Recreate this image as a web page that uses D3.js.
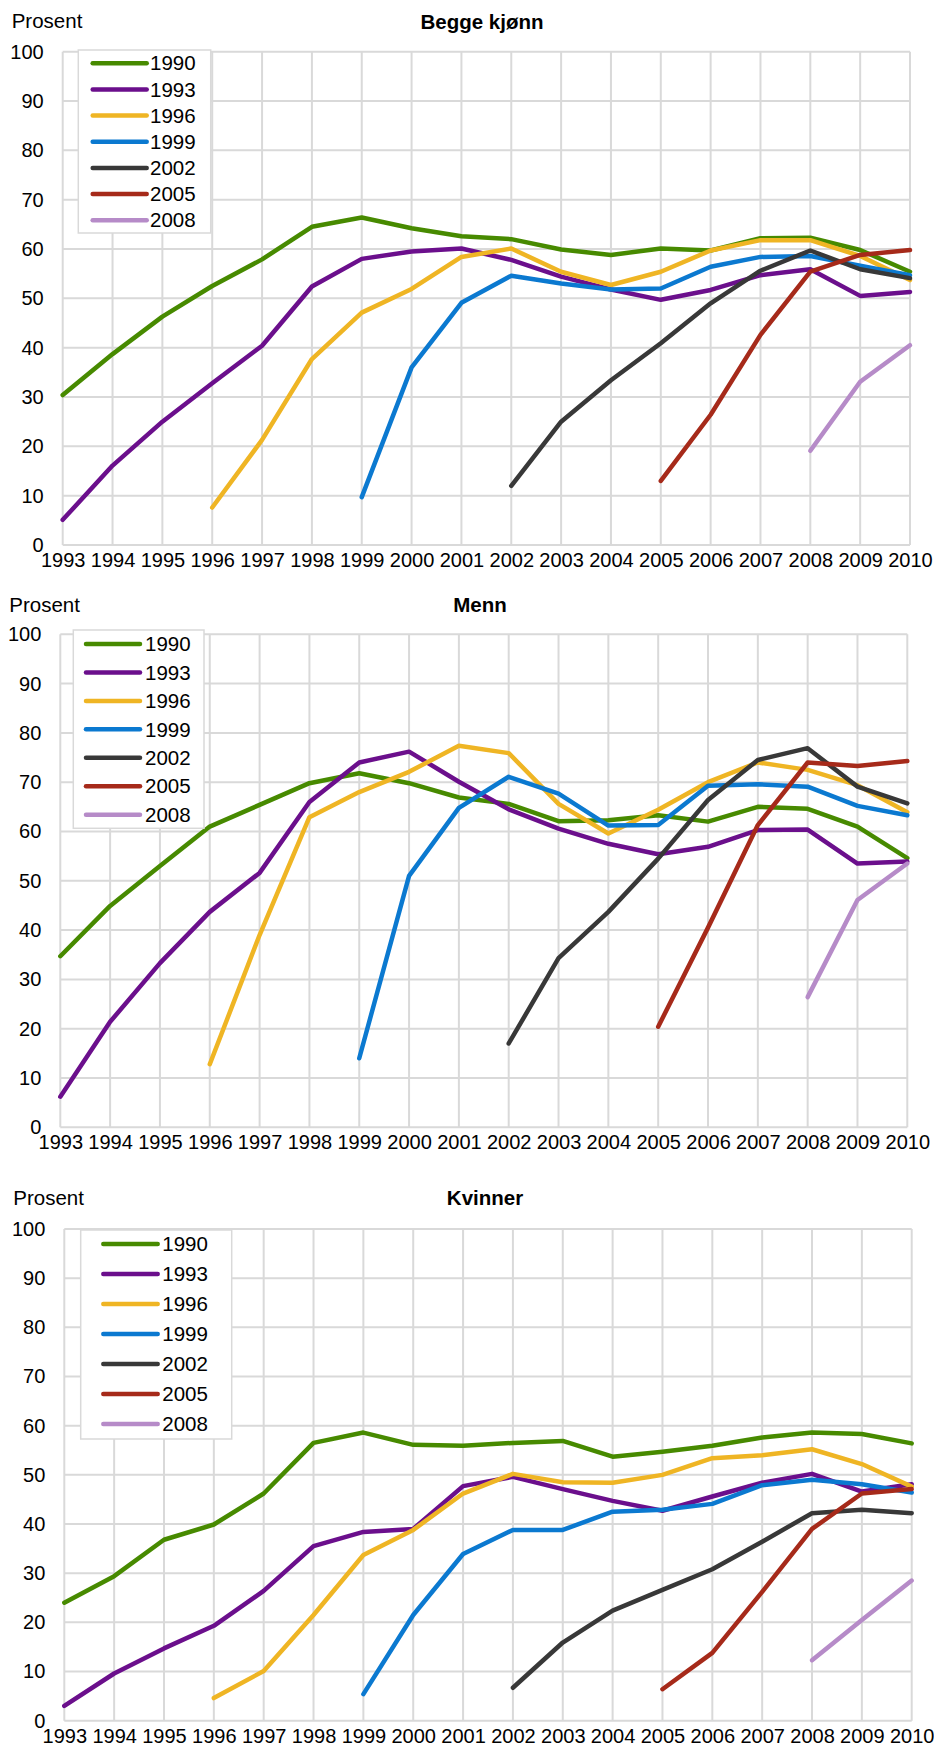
<!DOCTYPE html>
<html>
<head>
<meta charset="utf-8">
<script src="https://cdn.jsdelivr.net/npm/d3@7"></script>
<style>
  html, body { margin: 0; padding: 0; background: #fff; }
  svg { display: block; font-family: "Liberation Sans", Arial, sans-serif; }
</style>
</head>
<body>
<svg id="chart" width="934" height="1747"></svg>
<script>
// ---------- data ----------
const years = [1993,1994,1995,1996,1997,1998,1999,2000,2001,2002,2003,2004,2005,2006,2007,2008,2009,2010];
const cohorts = ["1990","1993","1996","1999","2002","2005","2008"];
const cohortStart = [1993,1993,1996,1999,2002,2005,2008];
const cohortColors = ["#478a00","#6b0f8c","#efb524","#0b79d0","#383838","#a62a1a","#b68bc8"];
const yTicks = [0,10,20,30,40,50,60,70,80,90,100];
const panelTitles = ["Begge kjønn","Menn","Kvinner"];
const yAxisLabel = "Prosent";

// Begge kjønn (values from cohort start year through 2010)
const begge1990 = [30.4,38.7,46.3,52.5,57.9,64.5,66.4,64.2,62.6,62.0,59.9,58.8,60.1,59.7,62.2,62.3,59.8,55.4];
const begge1993 = [5.1,16.1,25.0,32.8,40.4,52.4,58.0,59.5,60.1,57.8,54.4,51.8,49.7,51.7,54.7,55.9,50.5,51.3];
const begge1996 = [7.6,21.3,37.7,47.1,51.9,58.4,60.1,55.4,52.7,55.4,59.7,61.8,61.8,58.6,53.7];
const begge1999 = [9.7,36.0,49.1,54.6,53.0,51.8,52.0,56.4,58.4,58.6,56.6,54.7];
const begge2002 = [12.0,25.0,33.4,40.9,49.0,55.6,59.7,55.9,54.1];
const begge2005 = [13.0,26.4,42.6,55.4,58.8,59.8];
const begge2008 = [19.1,33.1,40.5];

// Menn
const menn1990 = [34.7,44.9,53.0,61.0,65.4,69.8,71.8,69.8,66.9,65.6,62.1,62.3,63.3,62.0,65.0,64.6,61.0,54.6];
const menn1993 = [6.2,21.4,33.3,43.7,51.6,66.0,74.0,76.2,70.1,64.5,60.6,57.5,55.4,56.9,60.3,60.4,53.5,53.9];
const menn1996 = [12.8,39.0,62.9,68.0,72.1,77.4,75.9,65.6,59.6,64.4,70.0,74.0,72.5,69.4,63.9];
const menn1999 = [14.0,51.0,64.8,71.1,67.7,61.2,61.3,69.3,69.6,69.1,65.2,63.3];
const menn2002 = [17.0,34.3,43.7,54.5,66.4,74.5,76.9,69.1,65.7];
const menn2005 = [20.4,40.5,61.3,74.0,73.3,74.3];
const menn2008 = [26.4,46.1,53.5];

// Kvinner
const kvinner1990 = [24.0,29.4,36.8,39.9,46.2,56.5,58.6,56.1,55.9,56.5,56.9,53.7,54.7,55.9,57.6,58.6,58.3,56.4];
const kvinner1993 = [3.0,9.6,14.7,19.3,26.4,35.5,38.4,39.0,47.7,49.6,47.1,44.7,42.7,45.6,48.4,50.2,46.6,48.1];
const kvinner1996 = [4.6,10.1,21.5,33.7,38.8,46.2,50.2,48.5,48.4,50.0,53.4,54.0,55.2,52.2,47.6];
const kvinner1999 = [5.4,21.5,33.9,38.8,38.8,42.5,42.9,44.1,47.9,49.0,48.1,46.4];
const kvinner2002 = [6.7,15.9,22.4,26.6,30.8,36.4,42.2,42.9,42.2];
const kvinner2005 = [6.4,13.8,26.2,39.0,46.2,47.1];
const kvinner2008 = [12.3,20.5,28.5];

const panelSeries = [
  [begge1990,begge1993,begge1996,begge1999,begge2002,begge2005,begge2008],
  [menn1990,menn1993,menn1996,menn1999,menn2002,menn2005,menn2008],
  [kvinner1990,kvinner1993,kvinner1996,kvinner1999,kvinner2002,kvinner2005,kvinner2008]
];

// ---------- layout ----------
const layouts = [
  {left:62.7, right:910, top:51.7, bottom:545,
   lgX0:78.3, lgX1:210.7, lgY0:50, lgY1:233, lnX0:92.7, lnX1:146.7, txX:150, row0:63.3, rowH:26.15,
   prosX:11.7, prosY:28, titleX:482, titleY:29.3},
  {left:60.3, right:907.3, top:634.3, bottom:1127.3,
   lgX0:73.3, lgX1:204, lgY0:630, lgY1:828.3, lnX0:86, lnX1:140, txX:145, row0:644, rowH:28.45,
   prosX:9.3, prosY:611.5, titleX:480, titleY:611.7},
  {left:64.3, right:911.7, top:1229, bottom:1720.7,
   lgX0:80.7, lgX1:231.7, lgY0:1230, lgY1:1439, lnX0:103.3, lnX1:157.7, txX:162.3, row0:1244, rowH:30,
   prosX:13.3, prosY:1205, titleX:485, titleY:1205}
];

const svg = d3.select("#chart");
const gridColor = "#d9d9d9";
const fontSize = 20;

layouts.forEach((L, pi) => {
  const g = svg.append("g");
  const x = d3.scaleLinear().domain([years[0], years[years.length-1]]).range([L.left, L.right]);
  const y = d3.scaleLinear().domain([0, 100]).range([L.bottom, L.top]);

  // gridlines
  g.append("g").selectAll("line.h").data(yTicks).join("line")
    .attr("x1", L.left).attr("x2", L.right)
    .attr("y1", d => y(d)).attr("y2", d => y(d))
    .attr("stroke", gridColor).attr("stroke-width", 2);
  g.append("g").selectAll("line.v").data(years).join("line")
    .attr("x1", d => x(d)).attr("x2", d => x(d))
    .attr("y1", L.top).attr("y2", L.bottom)
    .attr("stroke", gridColor).attr("stroke-width", 2);

  // y axis labels
  const yAxis = d3.axisLeft(y).tickValues(yTicks).tickSize(0).tickPadding(19);
  const ya = g.append("g").attr("transform", `translate(${L.left},0)`).call(yAxis);
  ya.select(".domain").remove();
  ya.selectAll("text").attr("font-size", fontSize).attr("fill", "#000")
    .attr("font-family", "Liberation Sans, Arial, sans-serif");

  // x axis labels
  const xAxis = d3.axisBottom(x).tickValues(years).tickFormat(d3.format("d")).tickSize(0).tickPadding(8);
  const xa = g.append("g").attr("transform", `translate(0,${L.bottom})`).call(xAxis);
  xa.select(".domain").remove();
  xa.selectAll("text").attr("font-size", fontSize).attr("fill", "#000")
    .attr("font-family", "Liberation Sans, Arial, sans-serif");

  // lines
  const line = d3.line().x(d => x(d.year)).y(d => y(d.value));
  panelSeries[pi].forEach((vals, si) => {
    const pts = vals.map((v, i) => ({year: cohortStart[si] + i, value: v}));
    g.append("path").datum(pts)
      .attr("d", line)
      .attr("fill", "none")
      .attr("stroke", cohortColors[si])
      .attr("stroke-width", 4.5)
      .attr("stroke-linejoin", "round")
      .attr("stroke-linecap", "round");
  });

  // legend
  const lg = g.append("g");
  lg.append("rect")
    .attr("x", L.lgX0).attr("y", L.lgY0)
    .attr("width", L.lgX1 - L.lgX0).attr("height", L.lgY1 - L.lgY0)
    .attr("fill", "#fff").attr("stroke", gridColor).attr("stroke-width", 1.5);
  cohorts.forEach((c, i) => {
    const cy = L.row0 + i * L.rowH;
    lg.append("line")
      .attr("x1", L.lnX0).attr("x2", L.lnX1).attr("y1", cy).attr("y2", cy)
      .attr("stroke", cohortColors[i]).attr("stroke-width", 4.5).attr("stroke-linecap", "round");
    lg.append("text")
      .attr("x", L.txX).attr("y", cy).attr("dy", "0.35em")
      .attr("font-size", 20.5).attr("fill", "#000").text(c);
  });

  // "Prosent" label and title
  g.append("text").attr("x", L.prosX).attr("y", L.prosY)
    .attr("font-size", 20.5).attr("fill", "#000").text(yAxisLabel);
  g.append("text").attr("x", L.titleX).attr("y", L.titleY)
    .attr("text-anchor", "middle").attr("font-weight", "bold")
    .attr("font-size", 20.5).attr("fill", "#000").text(panelTitles[pi]);
});
</script>
</body>
</html>
